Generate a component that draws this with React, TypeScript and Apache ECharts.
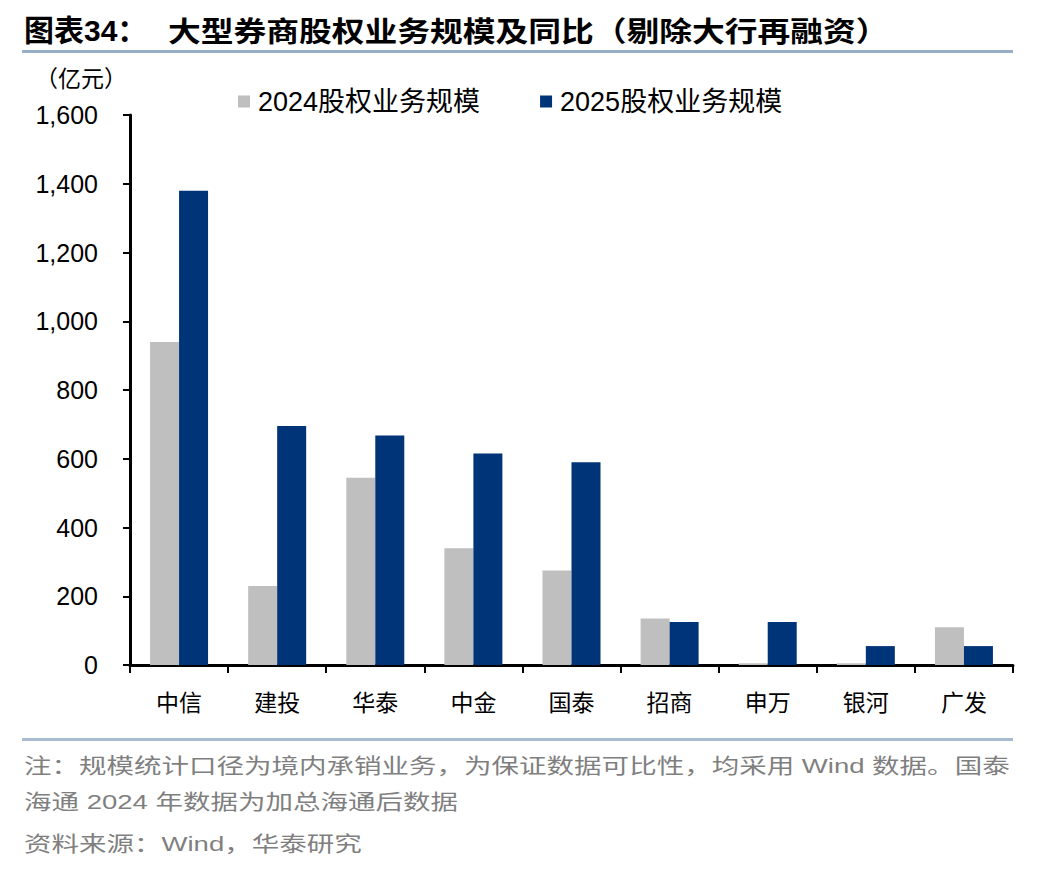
import React, { useEffect, useRef } from "react";
import * as echarts from "echarts";

const categories = ["中信", "建投", "华泰", "中金", "国泰", "招商", "申万", "银河", "广发"];
const series2024 = [940, 230, 545, 340, 275, 135, 5, 5, 110];
const series2025 = [1380, 695, 668, 615, 590, 125, 125, 55, 55];
const seriesNames = ["2024股权业务规模", "2025股权业务规模"];
const yMin = 0;
const yMax = 1600;
const yInterval = 200;

const titleLead = "图表34：";
const titleMain = "大型券商股权业务规模及同比（剔除大行再融资）";
const unitText = "（亿元）";
const noteLine1 = "注：规模统计口径为境内承销业务，为保证数据可比性，均采用 Wind 数据。国泰";
const noteLine2 = "海通 2024 年数据为加总海通后数据";
const sourceText = "资料来源：Wind，华泰研究";

const FONT = "'Liberation Sans', Arial, 'Noto Sans CJK SC', sans-serif";
const CJK = "'Noto Sans CJK SC', sans-serif";

export default function App() {
  const ref = useRef<HTMLDivElement>(null);
  useEffect(() => {
    document.body.style.margin = "0";
    if (!ref.current) return;
    const chart = echarts.init(ref.current, null, { renderer: "svg" });
    chart.setOption({
      animation: false,
      backgroundColor: "#ffffff",
      textStyle: { fontFamily: FONT },
      grid: { left: 130, right: 35, top: 115, bottom: 207, containLabel: false },
      legend: {
        left: 233,
        top: 83,
        itemWidth: 12,
        itemHeight: 12,
        itemGap: 60,
        icon: "rect",
        textStyle: { fontSize: 27, color: "#000", fontFamily: FONT, padding: [0, 0, 0, 3] },
        data: seriesNames,
      },
      xAxis: {
        type: "category",
        data: categories,
        boundaryGap: true,
        axisLine: { show: true, lineStyle: { color: "#000", width: 3 } },
        axisTick: { show: true, interval: 0, length: 8, lineStyle: { color: "#000", width: 2 } },
        axisLabel: { interval: 0, margin: 24, fontSize: 23, color: "#000", fontFamily: CJK },
        splitLine: { show: false },
      },
      yAxis: {
        type: "value",
        min: yMin,
        max: yMax,
        interval: yInterval,
        axisLine: { show: true, lineStyle: { color: "#000", width: 3 } },
        axisTick: { show: true, length: 7, lineStyle: { color: "#000", width: 2 } },
        axisLabel: {
          margin: 32,
          fontSize: 25,
          color: "#000",
          fontFamily: FONT,
          formatter: (v: number) => v.toLocaleString("en-US"),
        },
        splitLine: { show: false },
      },
      series: [
        {
          name: seriesNames[0],
          type: "bar",
          data: series2024,
          barWidth: 29,
          barGap: "0%",
          itemStyle: { color: "#BFBFBF" },
        },
        {
          name: seriesNames[1],
          type: "bar",
          data: series2025,
          barWidth: 29,
          barGap: "0%",
          itemStyle: { color: "#003478" },
        },
      ],
      graphic: [
        {
          type: "text",
          x: 24,
          y: 15,
          style: { text: titleLead, font: `bold 30px ${FONT}`, fill: "#000" },
        },
        {
          type: "text",
          x: 168,
          y: 16,
          scaleX: 1.17,
          style: { text: titleMain, font: `bold 28px ${CJK}`, fill: "#000" },
        },
        {
          type: "rect",
          shape: { x: 22, y: 50, width: 991, height: 3 },
          style: { fill: "#97AEC6" },
        },
        {
          type: "text",
          x: 35,
          y: 65,
          style: { text: unitText, font: `23px ${CJK}`, fill: "#000" },
        },
        {
          type: "rect",
          shape: { x: 22, y: 738, width: 991, height: 3 },
          style: { fill: "#A9BBD0" },
        },
        {
          type: "text",
          x: 24,
          y: 755,
          scaleX: 1.31,
          style: { text: noteLine1, font: `21px ${FONT}`, fill: "#7F7F7F" },
        },
        {
          type: "text",
          x: 24,
          y: 791,
          scaleX: 1.31,
          style: { text: noteLine2, font: `21px ${FONT}`, fill: "#7F7F7F" },
        },
        {
          type: "text",
          x: 24,
          y: 833,
          scaleX: 1.31,
          style: { text: sourceText, font: `21px ${FONT}`, fill: "#7F7F7F" },
        },
      ],
    });
    return () => chart.dispose();
  }, []);
  return <div ref={ref} style={{ width: 1048, height: 872 }} />;
}
